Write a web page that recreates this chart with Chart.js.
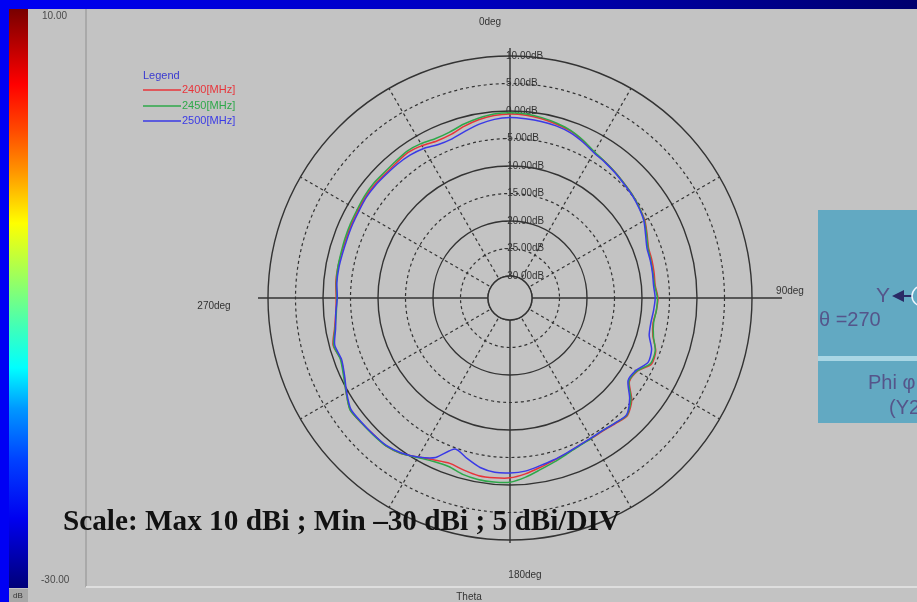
<!DOCTYPE html>
<html>
<head>
<meta charset="utf-8">
<script src="https://cdn.jsdelivr.net/npm/chart.js@4.4.1/dist/chart.umd.min.js"></script>
<style>
html,body{margin:0;padding:0;background:#c3c3c3;overflow:hidden;}
canvas{display:block;}
</style>
</head>
<body>
<canvas id="c" width="917" height="602"></canvas>
<script>
// Theta angles (deg), clockwise from top
const thetaDeg = [0,5,10,15,20,25,30,35,40,45,50,55,60,65,70,75,80,85,90,95,100,105,110,115,120,125,130,135,140,145,150,155,160,165,170,175,180,185,190,195,200,205,210,215,220,225,230,235,240,245,250,255,260,265,270,275,280,285,290,295,300,305,310,315,320,325,330,335,340,345,350,355];

// Gain (dBi) per series
const gain2400 = [-0.55,-0.64,-0.9,-1.3,-1.7,-2.5,-3.4,-3.8,-4.2,-4.6,-4.9,-5.3,-5.7,-6.5,-7.2,-7.3,-7.4,-7.5,-7.1,-7.3,-7.6,-7.1,-5.8,-5.6,-7.3,-7.5,-5.1,-3.8,-4.2,-4.5,-4.5,-4.4,-3.9,-3.4,-2.7,-1.9,-1.3,-1.2,-1.2,-1.6,-2.0,-1.5,-0.6,0.5,1.1,1.1,1.3,1.45,0.4,-0.7,-1.3,-0.7,-1.6,-2.2,-2.4,-2.2,-2.2,-2.3,-2.3,-2.2,-2.1,-1.9,-1.9,-2.0,-1.9,-1.7,-2.0,-2.5,-2.4,-1.7,-1.1,-0.7];
const gain2450 = [-0.3,-0.4,-0.7,-1.1,-1.6,-2.4,-3.3,-3.8,-4.2,-4.6,-4.9,-5.3,-5.8,-6.6,-7.3,-7.5,-7.6,-7.6,-7.2,-7.3,-7.5,-7.0,-5.9,-5.8,-7.4,-7.6,-5.3,-3.9,-4.3,-4.6,-4.5,-4.3,-3.8,-3.1,-2.3,-1.3,-0.5,-0.4,-0.5,-0.8,-1.4,-1.2,-0.5,0.5,1.1,1.2,1.3,1.5,0.4,-0.6,-1.2,-0.8,-1.7,-2.3,-2.5,-2.3,-2.2,-2.2,-2.1,-2.0,-1.9,-1.7,-1.6,-1.7,-1.6,-1.4,-1.6,-2.0,-1.9,-1.3,-0.8,-0.4];
const gain2500 = [-1.2,-1.3,-1.4,-1.6,-2.0,-2.7,-3.5,-3.9,-4.3,-4.7,-5.0,-5.4,-5.9,-6.8,-7.5,-7.6,-7.7,-7.8,-7.6,-7.8,-8.0,-7.8,-6.6,-6.3,-7.6,-7.8,-5.6,-4.0,-4.3,-4.6,-4.6,-4.4,-4.0,-3.5,-3.0,-2.4,-2.2,-2.2,-2.7,-3.8,-4.8,-2.0,-0.6,0.4,1.0,1.1,1.2,1.3,0.3,-0.8,-1.4,-1.0,-1.8,-2.2,-2.6,-2.4,-2.4,-2.5,-2.5,-2.4,-2.3,-2.1,-2.1,-2.2,-2.2,-2.3,-2.6,-3.2,-3.2,-2.6,-1.9,-1.4];

const seriesNames = ['2400[MHz]','2450[MHz]','2500[MHz]'];
const seriesColors = ['#e8343a','#2ea84a','#3a3ae6'];

// Radial ticks (dB)
const tickValues = [-30,-25,-20,-15,-10,-5,0,5,10];
const tickLabels = ['-30.00dB','-25.00dB','-20.00dB','-15.00dB','-10.00dB','-5.00dB','0.00dB','5.00dB','10.00dB'];
const solidTicks = [-30,-20,-10,0,10];

// Cardinal angle labels
const cardinalLabels = ['0deg','90deg','180deg','270deg'];
const colorBarLabels = ['10.00','-30.00'];
const titleText = 'Scale: Max 10 dBi ; Min \u201330 dBi ; 5 dBi/DIV';

const BG = '#c3c3c3';
const INK = '#333333';

const framePlugin = {
  id: 'framePlugin',
  beforeDraw(chart) {
    const c = chart.ctx;
    c.save();
    c.fillStyle = BG; c.fillRect(0, 0, 917, 602);
    // top strip
    const g = c.createLinearGradient(0, 0, 917, 0);
    g.addColorStop(0, '#0000f4'); g.addColorStop(0.5, '#0000c0'); g.addColorStop(1, '#00006e');
    c.fillStyle = g; c.fillRect(0, 0, 917, 9);
    // left strip
    c.fillStyle = '#0000f4'; c.fillRect(0, 0, 9, 602);
    // color bar (jet)
    const cb = c.createLinearGradient(0, 9, 0, 588);
    cb.addColorStop(0, '#780000'); cb.addColorStop(0.07, '#c00000'); cb.addColorStop(0.13, '#ff0000');
    cb.addColorStop(0.21, '#ff4a00'); cb.addColorStop(0.28, '#ff9400'); cb.addColorStop(0.37, '#ffff00');
    cb.addColorStop(0.46, '#a0ff5a'); cb.addColorStop(0.55, '#40ffb8'); cb.addColorStop(0.62, '#00ffff');
    cb.addColorStop(0.69, '#0098ff'); cb.addColorStop(0.78, '#0040ff'); cb.addColorStop(0.88, '#0000f0');
    cb.addColorStop(1, '#000078');
    c.fillStyle = cb; c.fillRect(9, 9, 19, 579);
    c.fillStyle = '#a8a8a8'; c.fillRect(9, 589, 19, 13);
    c.fillStyle = '#333'; c.font = '8px "Liberation Sans"'; c.textAlign = 'center'; c.textBaseline = 'middle';
    c.fillText('dB', 18, 596);
    // frame lines
    c.fillStyle = '#a9a9a9'; c.fillRect(85, 9, 2, 578);
    c.fillStyle = '#dedede'; c.fillRect(86, 586, 831, 2);
    // color bar labels
    c.fillStyle = '#4a4a4a'; c.font = '10px "Liberation Sans"'; c.textAlign = 'left';
    c.fillText(colorBarLabels[0], 42, 16, 30);
    c.fillText(colorBarLabels[1], 41, 580, 32);
    // right panel
    c.fillStyle = '#62a9c2'; c.fillRect(818, 210, 99, 213);
    c.fillStyle = '#a9d6e4'; c.fillRect(818, 356, 99, 5);
    c.fillStyle = '#55558a'; c.font = '21px "Liberation Sans"'; c.textAlign = 'left'; c.textBaseline = 'middle';
    c.fillText('Y', 876, 296);
    c.fillStyle = '#2a2a66';
    c.beginPath(); c.moveTo(892, 296); c.lineTo(904, 290); c.lineTo(904, 302); c.closePath(); c.fill();
    c.fillRect(904, 295, 8, 2);
    c.strokeStyle = '#eef6ff'; c.lineWidth = 1.5; c.beginPath(); c.arc(922, 296, 10, 0, Math.PI * 2); c.stroke();
    c.fillStyle = '#55558a'; c.font = '20px "Liberation Sans"';
    c.fillText('\u03b8 =270', 819, 320);
    c.fillText('Phi \u03c6', 868, 383);
    c.fillText('(Y2', 889, 408);
    c.restore();
  },
  beforeDatasetsDraw(chart) {
    const s = chart.scales.r;
    const c = chart.ctx;
    const r0 = s.getDistanceFromCenterForValue(-30);
    const rMax = s.getDistanceFromCenterForValue(10);
    c.save();
    // center mask
    c.fillStyle = BG;
    c.beginPath(); c.arc(s.xCenter, s.yCenter, r0, 0, Math.PI * 2); c.fill();
    c.strokeStyle = INK; c.lineWidth = 1.4;
    c.beginPath(); c.arc(s.xCenter, s.yCenter, r0, 0, Math.PI * 2); c.stroke();
    // cardinal axes
    const ext = [rMax + 8, rMax + 30, rMax + 3, rMax + 10];
    [0, 18, 36, 54].forEach((idx, k) => {
      const a = s.getPointPosition(idx, r0);
      const b = s.getPointPosition(idx, ext[k]);
      c.beginPath(); c.moveTo(a.x, a.y); c.lineTo(b.x, b.y); c.stroke();
    });
    // ring labels
    c.fillStyle = '#333'; c.font = '10px "Liberation Sans"'; c.textAlign = 'left'; c.textBaseline = 'middle';
    tickValues.forEach((v, i) => {
      const p = s.getPointPosition(0, s.getDistanceFromCenterForValue(v));
      c.fillText(tickLabels[i], p.x - (v < 0 ? 6 : 4), p.y, 40);
    });
    // cardinal labels
    c.font = '10px "Liberation Sans"'; c.textAlign = 'center';
    c.fillText(cardinalLabels[0], s.xCenter - 20, s.yCenter - 276, 30);
    c.fillText(cardinalLabels[1], s.xCenter + 280, s.yCenter - 7, 36);
    c.fillText(cardinalLabels[2], s.xCenter + 15, s.yCenter + 277, 44);
    c.fillText(cardinalLabels[3], s.xCenter - 296, s.yCenter + 8, 44);
    c.fillText('Theta', 469, 597, 32);
    c.restore();
  },
  afterDraw(chart) {
    const c = chart.ctx;
    c.save();
    // legend
    c.textBaseline = 'middle'; c.textAlign = 'left';
    c.fillStyle = '#3a3ad0'; c.font = '11px "Liberation Sans"';
    c.fillText('Legend', 143, 76, 42);
    const ys = [90, 106, 121];
    chart.data.datasets.forEach((ds, i) => {
      c.strokeStyle = ds.borderColor; c.lineWidth = 1.3;
      c.beginPath(); c.moveTo(143, ys[i]); c.lineTo(181, ys[i]); c.stroke();
      c.fillStyle = ds.borderColor; c.font = '11px "Liberation Sans"';
      c.fillText(ds.label, 182, ys[i], 61);
    });
    // scale title
    c.fillStyle = '#111'; c.font = 'bold 30px "Liberation Serif"'; c.textBaseline = 'alphabetic';
    c.fillText(titleText, 63, 530, 557);
    c.restore();
  }
};

new Chart(document.getElementById('c'), {
  type: 'radar',
  data: {
    labels: thetaDeg.map(String),
    datasets: [
      { label: seriesNames[0], data: gain2400, borderColor: seriesColors[0], order: 3 },
      { label: seriesNames[1], data: gain2450, borderColor: seriesColors[1], order: 2 },
      { label: seriesNames[2], data: gain2500, borderColor: seriesColors[2], order: 1 }
    ]
  },
  options: {
    responsive: false,
    animation: false,
    devicePixelRatio: 1,
    layout: { padding: { left: 268, right: 165, top: 56, bottom: 62 } },
    elements: {
      line: { borderWidth: 1.5, tension: 0.25, fill: false },
      point: { radius: 0, hoverRadius: 0 }
    },
    plugins: { legend: { display: false }, tooltip: { enabled: false } },
    scales: {
      r: {
        min: -34, max: 10,
        afterBuildTicks(scale) { scale.ticks = tickValues.map(v => ({ value: v })); },
        ticks: { display: false },
        pointLabels: { display: false },
        grid: {
          circular: true,
          color: INK,
          lineWidth: (ctx) => solidTicks.includes(ctx.tick && ctx.tick.value) ? 1.4 : 1.2
        },
        border: {
          dash: (ctx) => solidTicks.includes(ctx.tick && ctx.tick.value) ? [] : [3, 3]
        },
        angleLines: {
          display: true,
          color: INK,
          lineWidth: (ctx) => (ctx.index % 6 === 0 && ctx.index % 18 !== 0) ? 1.2 : 0,
          borderDash: [3, 3]
        }
      }
    }
  },
  plugins: [framePlugin]
});
</script>
</body>
</html>
